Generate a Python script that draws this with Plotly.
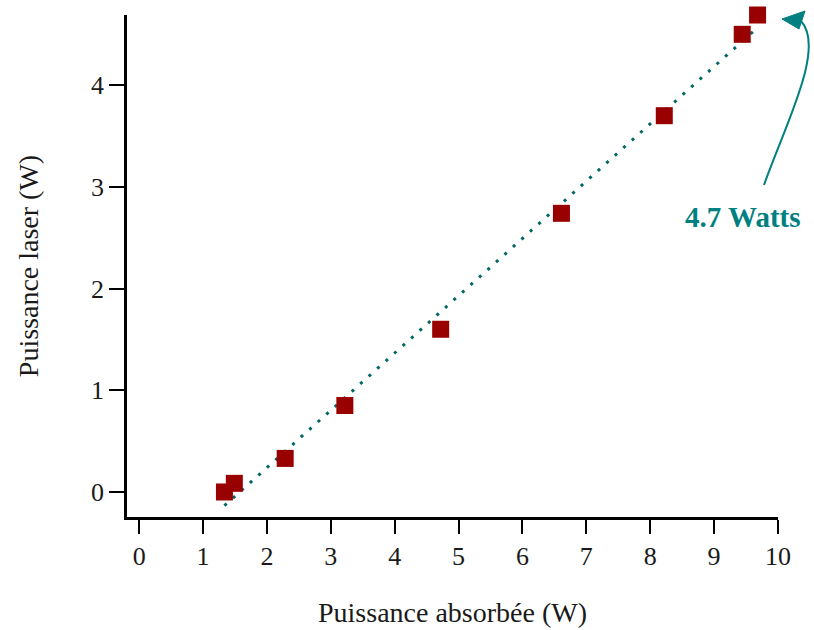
import numpy as np
import plotly.graph_objects as go

# Data
absorbed = [1.335, 1.49, 2.286, 3.22, 4.72, 6.61, 8.22, 9.44, 9.68]
laser = [0.0, 0.085, 0.33, 0.85, 1.60, 2.74, 3.70, 4.50, 4.69]
x_ticks = list(range(0, 11))
y_ticks = [0, 1, 2, 3, 4]
annotation_text = "4.7 Watts"

slope, intercept = np.polyfit(absorbed, laser, 1)
fit_x = [min(absorbed), max(absorbed)]
fit_y = [slope * v + intercept for v in fit_x]

FONT = "Liberation Serif"
TEAL = "#008080"
DOT = "#006666"
RED = "#990000"
TXT = "#1a1a1a"

# plot area in pixels (for the annotation curve)
L, R, T, B = 127, 778, 15, 517


def px(x, y):
    return (x - L) / (R - L), (B - y) / (B - T)


fig = go.Figure()
fig.add_trace(go.Scatter(
    x=fit_x, y=fit_y, mode="lines",
    line=dict(color=DOT, width=3, dash="3px,8.4px"),
    hoverinfo="skip", cliponaxis=False,
))
fig.add_trace(go.Scatter(
    x=absorbed, y=laser, mode="markers",
    marker=dict(symbol="square", size=17, color=RED, line=dict(width=0)),
    cliponaxis=False,
))

# curved arrow
p0 = px(764, 185); c1 = px(785, 125); c2 = px(826, 48); p1 = px(801, 21)
path = f"M {p0[0]},{p0[1]} C {c1[0]},{c1[1]} {c2[0]},{c2[1]} {p1[0]},{p1[1]}"
fig.add_shape(type="path", path=path, xref="paper", yref="paper",
              line=dict(color=TEAL, width=2))
t0 = px(782, 19); t1 = px(805, 11); t2 = px(799, 29)
head = f"M {t0[0]},{t0[1]} L {t1[0]},{t1[1]} L {t2[0]},{t2[1]} Z"
fig.add_shape(type="path", path=head, xref="paper", yref="paper",
              line=dict(color=TEAL, width=1), fillcolor=TEAL)

tx, ty = px(742, 217)
fig.add_annotation(x=tx, y=ty, xref="paper", yref="paper", text=f"<b>{annotation_text}</b>",
                   showarrow=False, font=dict(family=FONT, size=29, color=TEAL),
                   xanchor="center", yanchor="middle")

fig.update_layout(
    width=814, height=630,
    margin=dict(l=L, r=814 - R, t=T, b=630 - B),
    paper_bgcolor="white", plot_bgcolor="white",
    showlegend=False,
    font=dict(family=FONT, size=26, color=TXT),
)
fig.update_xaxes(
    range=[-0.19, 10.0], tickvals=x_ticks, ticktext=[str(v) for v in x_ticks],
    showgrid=False, zeroline=False, showline=True, linecolor="black", linewidth=2.5,
    ticks="outside", ticklen=14, tickwidth=2, tickcolor="black", automargin=False,
    tickfont=dict(family=FONT, size=26, color=TXT),
    title=dict(text="Puissance absorbée (W)", font=dict(family=FONT, size=28, color=TXT), standoff=33),
)
fig.update_yaxes(
    range=[-0.246, 4.69], tickvals=y_ticks, ticktext=[str(v) for v in y_ticks],
    showgrid=False, zeroline=False, showline=True, linecolor="black", linewidth=2.5,
    ticks="outside", ticklen=15, tickwidth=2, tickcolor="black", automargin=False,
    tickfont=dict(family=FONT, size=26, color=TXT),
    title=dict(text="Puissance laser (W)", font=dict(family=FONT, size=28, color=TXT), standoff=45),
)

fig.write_html("out.html", config={"displayModeBar": False},
               post_script="document.body.style.margin='0';document.body.style.overflow='hidden';")
